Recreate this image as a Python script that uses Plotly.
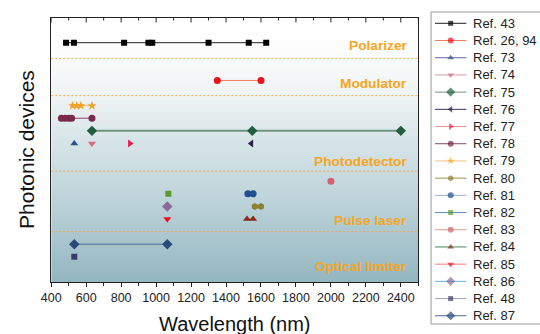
import base64
import plotly.graph_objects as go

# ------------------------------------------------------------------ data
x_tick_values = [400, 600, 800, 1000, 1200, 1400, 1600, 1800, 2000, 2200, 2400]
x_minor_tick_values = [500, 700, 900, 1100, 1300, 1500, 1700, 1900, 2100, 2300, 2500]

device_labels = ["Polarizer", "Modulator", "Photodetector", "Pulse laser", "Optical limiter"]
device_label_rows = [18.75, 15.8, 9.6, 4.85, 1.2]
device_boundaries = [17.75, 14.8, 8.8, 4.0]

ref_names = ["Ref. 43", "Ref. 26, 94", "Ref. 73", "Ref. 74", "Ref. 75", "Ref. 76",
             "Ref. 77", "Ref. 78", "Ref. 79", "Ref. 80", "Ref. 81", "Ref. 82",
             "Ref. 83", "Ref. 84", "Ref. 85", "Ref. 86", "Ref. 48", "Ref. 87"]
ref_rows = [19, 16, 11, 11, 12, 11, 11, 13, 14, 6, 7, 7, 8, 5, 5, 6, 2, 3]

wl_ref43 = [485, 530, 817, 956, 978, 1300, 1530, 1630]
wl_ref26_94 = [1350, 1600]
wl_ref73 = [532]
wl_ref74 = [633]
wl_ref75 = [633, 1550, 2400]
wl_ref76 = [1545]
wl_ref77 = [850]
wl_ref78 = [458, 479, 500, 517, 633]
wl_ref79 = [522, 546, 570, 633]
wl_ref80 = [1565, 1600]
wl_ref81 = [1525, 1555]
wl_ref82 = [1070]
wl_ref83 = [2000]
wl_ref84 = [1520, 1555]
wl_ref85 = [1064]
wl_ref86 = [1064]
wl_ref48 = [532]
wl_ref87 = [532, 1064]

ref_wavelengths = [wl_ref43, wl_ref26_94, wl_ref73, wl_ref74, wl_ref75, wl_ref76,
                   wl_ref77, wl_ref78, wl_ref79, wl_ref80, wl_ref81, wl_ref82,
                   wl_ref83, wl_ref84, wl_ref85, wl_ref86, wl_ref48, wl_ref87]

# ------------------------------------------------------------------ styles
marker_symbols = ["square", "circle", "triangle-up", "triangle-down", "diamond", "triangle-left",
                  "triangle-right", "circle", "star", "hexagon", "circle", "square",
                  "circle", "triangle-up", "triangle-down", "diamond", "square", "diamond"]
marker_colors = ["#000000", "#e8141c", "#2f4f8f", "#d86a80", "#1f5f3f", "#2d2050",
                 "#e8184a", "#7a2a4a", "#f5a020", "#8a8030", "#1f4f8f", "#5a9a30",
                 "#d86070", "#8a2a1a", "#e8101f", "#8a6a9a", "#3a3a6a", "#2a4a7a"]
line_colors = ["#222222", "#f08060", "#5a6a9a", "#d89aa0", "#6f9580", "#3d3060",
               "#f09090", "#8a4a6a", "#f5c080", "#a09050", "#9ab0d0", "#5a8ac0",
               "#d8a080", "#4a8a5a", "#f08080", "#6ab0e0", "#a0a0c0", "#4a6a9a"]
line_widths = [1, 1, 1, 1, 2, 1, 1, 1, 1, 1, 1, 1, 1, 1, 1, 1, 1, 1]
marker_sizes = [6, 7, 7, 7, 8, 7, 7, 7, 7, 7, 7, 6, 7, 7, 7, 8, 6, 8]

FONT = "Liberation Sans, Arial, Helvetica, sans-serif"
W, H = 540, 334
PL, PR, PT, PB = 42, 416, 17.5, 282   # plot frame in px
X_DOMAIN = [PL / W, PR / W]
Y_DOMAIN = [(H - PB) / H, (H - PT) / H]
PLOT_H = PB - PT

fig = go.Figure()

# main data traces
for name, wl, row, sym, mc, lc, lw, ms in zip(ref_names, ref_wavelengths, ref_rows, marker_symbols,
                                              marker_colors, line_colors, line_widths, marker_sizes):
    fig.add_trace(go.Scatter(
        x=wl, y=[row] * len(wl), mode="lines+markers", name=name, showlegend=False,
        line=dict(color=lc, width=lw),
        marker=dict(symbol=sym, color=mc, size=ms, line=dict(width=0)),
        xaxis="x", yaxis="y", hoverinfo="x+name"))

# custom legend (drawn on its own hidden axes)
legend_x = [4, 20, 36]
for i, (name, sym, mc, lc, ms) in enumerate(zip(ref_names, marker_symbols, marker_colors,
                                                 line_colors, marker_sizes)):
    fig.add_trace(go.Scatter(
        x=legend_x, y=[i] * 3, mode="lines+markers", showlegend=False, hoverinfo="skip",
        line=dict(color=lc, width=1),
        marker=dict(symbol=sym, color=mc, size=[0, ms - 1, 0], line=dict(width=0)),
        xaxis="x2", yaxis="y2"))
    fig.add_annotation(x=41, y=i, xref="x2", yref="y2", text=name, showarrow=False,
                       xanchor="left", yanchor="middle",
                       font=dict(family=FONT, size=13, color="#222222"))

# device labels
for lab, yy in zip(device_labels, device_label_rows):
    fig.add_annotation(x=0.976, y=yy, xref="x domain", yref="y", text="<b>%s</b>" % lab,
                       showarrow=False, xanchor="right", yanchor="middle",
                       font=dict(family=FONT, size=13.7, color="#f5a623"))

# device boundaries (dotted)
for yb in device_boundaries:
    fig.add_shape(type="line", xref="x domain", yref="y", x0=0, x1=1, y0=yb, y1=yb,
                  line=dict(color="rgba(245,165,60,0.85)", width=1, dash="2px,2px"), layer="above")

# inward ticks on the top frame (mirrored axis ticks, placed through the x scale)
for tv in x_tick_values:
    fig.add_shape(type="line", xref="x", yref="y domain", x0=tv, x1=tv, y0=1, y1=1 - 5 / PLOT_H,
                  line=dict(color="#222222", width=1), layer="above")
for tv in x_minor_tick_values:
    fig.add_shape(type="line", xref="x", yref="y domain", x0=tv, x1=tv, y0=1, y1=1 - 3 / PLOT_H,
                  line=dict(color="#222222", width=1), layer="above")

# legend box
fig.add_shape(type="rect", xref="paper", yref="paper", x0=429 / W, x1=1.05,
              y0=(H - 324) / H, y1=(H - 12) / H,
              line=dict(color="#9a9a9a", width=1), fillcolor="rgba(0,0,0,0)", layer="above")

# axis titles
fig.add_annotation(x=(PL + PR) / 2 / W, y=(H - 324) / H, xref="paper", yref="paper",
                   text="Wavelength (nm)", showarrow=False, xanchor="center", yanchor="middle",
                   font=dict(family=FONT, size=20, color="#111111"))
fig.add_annotation(x=17.5 / W, y=(H - (PT + PB) / 2) / H, xref="paper", yref="paper",
                   text="Photonic devices", showarrow=False, textangle=-90,
                   xanchor="center", yanchor="middle",
                   font=dict(family=FONT, size=21, color="#111111"))

# gradient background
svg = ('<svg xmlns="http://www.w3.org/2000/svg" width="100" height="100" preserveAspectRatio="none">'
       '<defs><linearGradient id="g" x1="0" y1="0" x2="0" y2="1">'
       '<stop offset="0" stop-color="#ffffff"/>'
       '<stop offset="0.12" stop-color="#fdfdfd"/>'
       '<stop offset="0.31" stop-color="#edf2f3"/>'
       '<stop offset="0.46" stop-color="#d8e5e8"/>'
       '<stop offset="0.69" stop-color="#bdd3d9"/>'
       '<stop offset="1" stop-color="#94b6c0"/>'
       '</linearGradient></defs><rect width="100" height="100" fill="url(#g)"/></svg>')
src = "data:image/svg+xml;base64," + base64.b64encode(svg.encode()).decode()
fig.add_layout_image(source=src, xref="x domain", yref="y domain", x=0, y=1, sizex=1, sizey=1,
                     xanchor="left", yanchor="top", sizing="stretch", layer="below")

fig.update_layout(
    width=W, height=H, margin=dict(l=0, r=0, t=0, b=0),
    paper_bgcolor="white", plot_bgcolor="white",
    font=dict(family=FONT, color="#222222"),
    showlegend=False,
    xaxis=dict(domain=X_DOMAIN, range=[400, 2500], anchor="y",
               tickmode="array", tickvals=x_tick_values,
               ticks="outside", ticklen=4, tickwidth=1, tickcolor="#222",
               minor=dict(tickmode="array", tickvals=x_minor_tick_values, ticks="outside",
                          ticklen=2.5, tickcolor="#222"),
               showline=True, linecolor="#222", linewidth=1, mirror=True,
               showgrid=False, zeroline=False,
               tickfont=dict(family=FONT, size=12.5, color="#222222")),
    yaxis=dict(domain=Y_DOMAIN, range=[0, 21], anchor="x",
               showticklabels=False, ticks="", showline=True, linecolor="#222", linewidth=1,
               mirror=True, showgrid=False, zeroline=False),
    xaxis2=dict(domain=[429 / W, 1], range=[0, 111], anchor="y2", visible=False),
    yaxis2=dict(domain=[0, 1], range=[18.06, -1.355], anchor="x2", visible=False),
)

fig.write_html("out.html", config={"displayModeBar": False},
               post_script="document.body.style.margin='0';")
